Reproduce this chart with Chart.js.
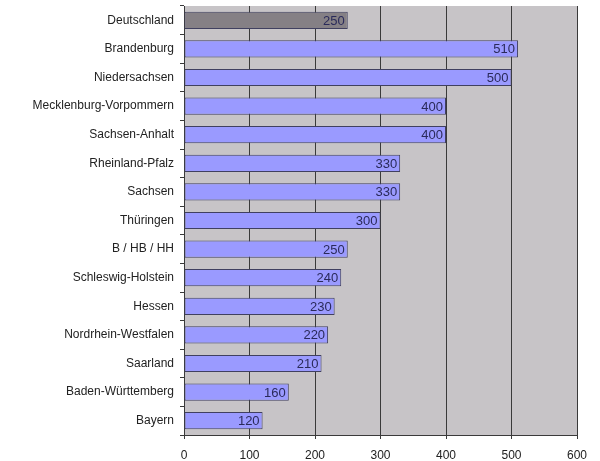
<!DOCTYPE html>
<html><head><meta charset="utf-8">
<script src="https://cdn.jsdelivr.net/npm/chart.js@4/dist/chart.umd.min.js"></script>
<style>html,body{margin:0;padding:0;background:#fff}#w{width:600px;height:461px}</style>
</head><body><div id="w"><canvas id="c"></canvas></div>
<script>
const categories = ["Deutschland","Brandenburg","Niedersachsen","Mecklenburg-Vorpommern","Sachsen-Anhalt","Rheinland-Pfalz","Sachsen","Thüringen","B / HB / HH","Schleswig-Holstein","Hessen","Nordrhein-Westfalen","Saarland","Baden-Württemberg","Bayern"];
const values = [250,510,500,400,400,330,330,300,250,240,230,220,210,160,120];
const xTicks = [0,100,200,300,400,500,600];

const bg = {id:'bg',beforeDraw(ch){const a=ch.chartArea,c=ch.ctx;c.save();c.fillStyle='#c7c4c7';c.fillRect(a.left,a.top,a.right-a.left,a.bottom-a.top);c.restore();}};
const lbl = {id:'lbl',afterDatasetsDraw(ch){const c=ch.ctx;const m=ch.getDatasetMeta(0);c.save();c.font='13px "Liberation Sans", Arial';c.fillStyle='#2a2a5a';c.textAlign='right';c.textBaseline='middle';m.data.forEach((b,i)=>{c.fillText(String(values[i]),b.x-3,b.y+1);});c.restore();}};

new Chart(document.getElementById('c'),{
  type:'bar',
  data:{labels:categories,datasets:[{data:values,
    backgroundColor:values.map((v,i)=>i===0?'#858085':'#9a9aff'),
    borderColor:'#404060',borderWidth:1,borderSkipped:false,
    barPercentage:0.6,categoryPercentage:1}]},
  options:{indexAxis:'y',responsive:true,maintainAspectRatio:false,animation:false,
    layout:{padding:{top:6,right:23,bottom:0,left:0}},
    plugins:{legend:{display:false},tooltip:{enabled:false}},
    scales:{
      x:{min:0,max:600,afterBuildTicks(s){s.ticks=xTicks.map(v=>({value:v}));},
        afterFit(s){s.height=26;},
        grid:{color:'#3a3a3a',lineWidth:1,tickLength:4,drawOnChartArea:true},
        border:{color:'#3a3a3a'},
        ticks:{color:'#222',font:{family:'"Liberation Sans", Arial',size:12},padding:9}},
      y:{afterFit(s){s.width=184;s.paddingTop=0;s.paddingBottom=0;},
        grid:{display:true,drawOnChartArea:false,color:'#3a3a3a',tickLength:4,offset:true},
        border:{color:'#3a3a3a'},
        ticks:{color:'#222',font:{family:'"Liberation Sans", Arial',size:12},padding:6}}
    }},
  plugins:[bg,lbl]
});
</script></body></html>
